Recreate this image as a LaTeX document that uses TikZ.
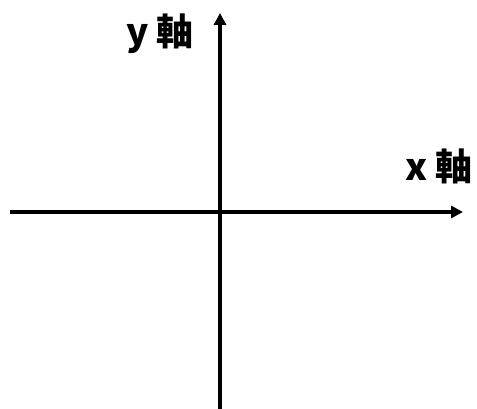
\documentclass[tikz,border=0pt]{standalone}
\usepackage{fontspec}
\newfontfamily\cjk{Noto Sans CJK TC}
\usetikzlibrary{arrows.meta,positioning}

\begin{document}
\begin{tikzpicture}[
    x=1pt, y=1pt,
    axisline/.style={line width=4pt, -{Triangle[length=12pt,width=12pt]}},
    axislbl/.style={font=\cjk\bfseries\fontsize{37}{37}\selectfont, inner sep=0pt}
]
\useasboundingbox (0,0) rectangle (477,409);
% axes
\coordinate (xl) at (10,197);
\coordinate (xr) at (463,197);
\coordinate (yb) at (220,-2);
\coordinate (yt) at (220,396);
\draw[axisline] (xl) -- (xr);
\draw[axisline] (yb) -- (yt);
% labels
\node[axislbl] (ylbl) at (160,375) {y 軸};
\node[axislbl] (xlbl) at (439,243) {x 軸};
\end{tikzpicture}
\end{document}
